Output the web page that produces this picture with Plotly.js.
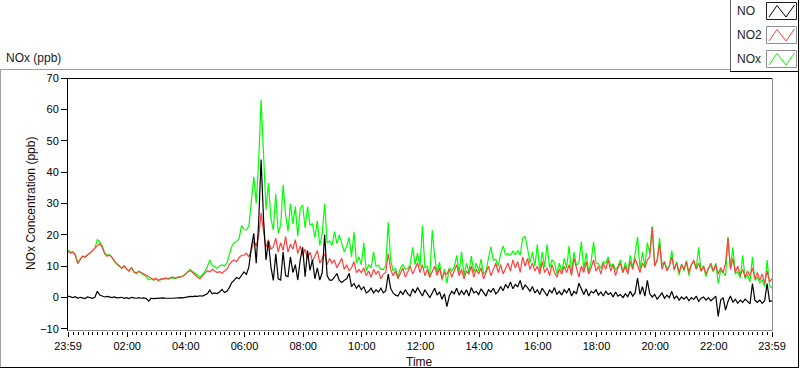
<!DOCTYPE html>
<html>
<head>
<meta charset="utf-8">
<script src="https://cdn.plot.ly/plotly-3.0.1.min.js"></script>
<style>
  html, body { margin: 0; padding: 0; background: #fff; }
  #chart { width: 800px; height: 369px; }
</style>
</head>
<body>
<div id="chart"></div>
<script>
// Sampling clock: first sample at 23:59 of previous day, one sample every 5 minutes
const TIME_START_MIN = -1;
const TIME_STEP_MIN = 5;

// NO (ppb) – one row per hour (12 samples), final sample at 23:59
const NO_ppb = [
  0.5, 0.2, 0.0, 0.3, -0.2, 0.1, 0.0, -0.3, 0.2, 0.0, -0.2, 0.1,
  2.0, 0.8, 0.5, 0.2, 0.4, 0.1, 0.0, 0.2, -0.1, 0.0, 0.1, -0.2,
  0.0, -0.3, 0.1, -0.1, -0.2, 0.0, -0.2, -0.1, -0.3, -1.1, -0.2, -0.3,
  -0.2, -0.3, -0.2, -0.1, -0.2, -0.3, -0.2, -0.2, -0.1, -0.2, 0.0, -0.1,
  0.1, 0.2, 0.4, 0.3, 0.5, 0.4, 0.6, 0.5, 0.8, 1.2, 2.4, 1.2,
  1.5, 1.3, 1.8, 2.6, 1.6, 2.0, 3.2, 4.8, 5.6, 6.4, 6.0, 7.0,
  8.2, 7.4, 9.8, 16.0, 20.5, 11.0, 24.0, 44.0, 25.0, 12.0, 18.0, 9.8,
  5.5, 14.0, 6.0, 5.6, 14.5, 7.0, 6.7, 13.0, 8.0, 10.5, 5.6, 12.0,
  16.0, 6.7, 15.0, 8.7, 12.0, 6.0, 9.5, 5.6, 8.0, 20.0, 7.0, 5.6,
  5.6, 6.5, 7.7, 5.5, 4.8, 5.5, 6.0, 7.7, 3.5, 4.5, 3.0, 4.0,
  2.5, 3.5, 1.5, 2.0, 3.0, 1.5, 2.5, 1.8, 3.0, 1.5, 2.2, 7.5,
  3.0, 1.5, 0.8, 0.5, 2.0, 1.0, 2.5, 1.2, 0.5, 2.8, 1.5, 3.2,
  1.8, 0.5, 2.5, 1.0, 0.0, 1.5, 3.0, 0.8, 1.8, -0.5, 1.2, -2.9,
  0.5, 2.0, 1.2, 3.0, 0.8, 2.2, 1.0, 2.5, 0.5, 3.2, 1.5, 2.0,
  1.0, 2.8, 1.5, 0.5, 2.5, 1.8, 3.0, 1.2, 2.0, 3.5, 2.2, 4.2,
  3.0, 5.0, 2.8, 4.2, 3.5, 5.5, 2.5, 4.0, 3.2, 2.0, 3.5, 1.5,
  2.5, 1.0, 3.0, 1.8, 0.5, 2.5, 1.5, 3.2, 1.0, 2.0, 0.8, 2.5,
  1.5, 3.0, 0.5, 2.0, 1.2, 4.6, 2.5, 1.0, 2.8, 0.5, 2.0, 1.5,
  2.5, 0.8, 1.8, 0.5, 2.0, 1.0, 1.5, 0.2, 1.8, 0.5, 1.0, 0.0,
  1.2, 0.3, 2.0, 0.5, 1.5, 6.2, 1.0, 3.5, 0.5, 5.5, 1.2, 0.2,
  1.0, -0.5, 0.5, 1.5, -0.2, 0.8, 0.0, 2.0, -0.3, 0.5, -0.8, 0.2,
  -0.5, 0.3, -1.0, 0.0, -0.6, 0.5, -1.2, -0.2, 0.2, -0.8, 0.0, -1.0,
  -0.3, 0.5, -6.0, -0.8, 0.0, -4.0, -1.2, 0.5, -1.5, -0.5, -1.8, -0.8,
  -1.5, -0.5, -1.2, -2.0, 4.5, -0.8, -1.5, -0.8, -1.8, -1.0, 4.5, -1.2,
  -1.0
];

// NO2 (ppb)
const NO2_ppb = [
  14.8, 14.2, 14.5, 13.5, 11.0, 12.2, 13.2, 13.0, 13.5, 14.2, 15.0, 15.6,
  16.5, 17.2, 16.0, 14.0, 13.2, 13.6, 12.8, 11.5, 10.8, 10.0, 9.4, 10.2,
  9.0, 8.6, 9.5, 8.2, 7.8, 8.4, 8.0, 7.4, 7.0, 6.8, 6.2, 5.8,
  6.2, 5.5, 6.0, 6.0, 6.3, 6.1, 6.4, 6.5, 6.2, 6.6, 6.5, 6.9,
  7.4, 8.2, 8.6, 8.0, 7.2, 6.5, 6.0, 6.8, 7.5, 8.6, 8.2, 9.0,
  8.5, 8.0, 8.3, 7.8, 8.5, 9.0, 10.5, 11.5, 12.0, 11.5, 12.8, 13.5,
  13.5, 14.2, 13.0, 15.0, 18.0, 16.5, 19.5, 27.0, 21.0, 16.0, 18.5, 15.5,
  16.0, 19.0, 14.5, 17.5, 15.0, 19.5, 14.5, 17.0, 15.5, 18.5, 14.0, 16.5,
  13.5, 15.5, 12.5, 14.5, 11.5, 13.0, 15.0, 11.0, 12.5, 14.0, 10.5, 12.5,
  11.0, 12.0, 9.5, 11.0, 12.5, 9.0, 10.5, 8.5, 9.5, 11.5, 8.0, 9.0,
  8.0, 9.5, 7.0, 8.5, 6.5, 9.0, 7.5, 8.5, 6.0, 7.5, 8.0, 14.0,
  9.0, 7.0, 8.5, 6.0, 7.5, 9.5, 6.5, 8.0, 10.0, 7.5, 9.0, 11.0,
  8.0, 10.5, 7.0, 9.0, 6.5, 8.5, 10.0, 7.0, 9.5, 6.0, 8.0, 7.5,
  9.0, 6.5, 8.5, 10.5, 7.0, 9.0, 6.0, 8.5, 7.5, 10.0, 6.5, 9.0,
  7.5, 9.5, 6.0, 8.0, 10.0, 7.0, 9.0, 11.0, 8.0, 10.5, 7.5, 9.5,
  11.0, 8.5, 12.0, 9.5, 11.5, 8.0, 13.0, 10.0, 12.5, 9.0, 11.0, 8.5,
  10.0, 7.5, 11.5, 8.0, 9.5, 7.0, 10.5, 8.0, 6.5, 9.0, 7.5, 10.0,
  8.0, 10.5, 7.0, 12.5, 9.0, 6.5, 10.0, 8.0, 11.5, 7.5, 9.5, 12.0,
  8.5, 10.0, 7.5, 11.0, 9.0, 12.0, 8.5, 10.5, 7.0, 9.5, 11.0, 8.0,
  10.0, 7.5, 11.5, 9.0, 12.5, 10.0, 8.0, 11.0, 9.5, 12.0, 13.0, 22.5,
  10.0, 12.0, 17.0, 9.0, 11.5, 8.5, 10.0, 13.0, 9.0, 11.0, 8.0, 10.5,
  9.0, 11.5, 8.0, 10.5, 12.0, 9.0, 11.0, 8.5, 10.0, 7.5, 9.5, 11.0,
  8.5, 10.5, 7.5, 9.5, 8.0, 11.0, 19.0, 9.0, 12.5, 8.0, 10.0, 7.0,
  9.0, 6.5, 8.5, 7.0, 9.5, 6.0, 8.0, 5.5, 7.5, 4.5, 8.5, 5.0,
  6.0
];

// NOx (ppb)
const NOx_ppb = [
  15.2, 14.5, 14.6, 13.8, 10.8, 12.3, 13.2, 12.8, 13.7, 14.2, 15.0, 15.8,
  18.5, 17.8, 16.5, 14.2, 13.5, 13.7, 12.8, 11.7, 10.7, 10.0, 9.3, 10.0,
  9.0, 8.3, 9.6, 8.1, 7.6, 8.4, 7.8, 7.3, 6.7, 5.7, 6.0, 5.5,
  6.0, 5.2, 5.8, 5.9, 6.1, 5.8, 6.2, 6.3, 6.1, 6.4, 6.5, 6.8,
  7.5, 8.4, 9.0, 8.3, 7.7, 6.9, 6.6, 7.3, 8.3, 9.8, 12.0, 10.2,
  10.0, 9.3, 10.1, 10.4, 10.1, 11.0, 13.7, 16.3, 17.6, 17.9, 18.8, 23.0,
  21.7, 21.6, 22.8, 31.0, 38.5, 30.0, 43.5, 63.0, 46.0, 28.0, 36.5, 25.3,
  21.5, 33.0, 20.5, 23.1, 36.0, 26.5, 21.2, 30.0, 23.5, 29.0, 19.6, 28.5,
  29.5, 22.2, 29.0, 23.2, 23.5, 19.0, 24.5, 16.6, 20.5, 30.0, 17.5, 18.1,
  16.6, 21.0, 17.2, 20.0, 17.3, 14.5, 16.5, 19.2, 13.0, 21.0, 11.0, 13.0,
  10.5, 17.5, 8.5, 10.5, 9.5, 14.6, 10.0, 10.3, 9.0, 9.0, 10.2, 24.0,
  12.0, 8.5, 9.3, 6.5, 9.5, 10.5, 9.0, 9.2, 10.5, 16.0, 10.5, 14.2,
  9.8, 23.0, 9.5, 10.0, 6.5, 21.5, 13.0, 7.8, 11.3, 5.5, 9.2, 4.6,
  9.5, 8.5, 9.7, 13.5, 7.8, 14.6, 7.0, 11.0, 8.0, 13.2, 8.0, 11.0,
  8.5, 12.3, 7.5, 8.5, 12.5, 16.2, 12.0, 12.2, 10.0, 14.0, 16.5, 13.7,
  14.0, 13.5, 14.8, 13.7, 15.0, 13.5, 19.0, 19.5, 15.7, 11.0, 14.5, 10.0,
  17.0, 8.5, 14.5, 9.8, 17.0, 9.5, 12.0, 11.2, 7.5, 11.0, 8.3, 12.5,
  9.5, 16.5, 7.5, 14.5, 10.2, 11.1, 17.8, 9.0, 14.3, 8.0, 11.5, 17.8,
  11.0, 10.8, 9.3, 11.5, 11.0, 13.0, 10.0, 10.7, 8.8, 10.0, 12.0, 8.0,
  11.2, 7.8, 13.5, 9.5, 14.0, 19.4, 9.0, 14.5, 10.0, 17.5, 14.2, 22.7,
  11.0, 11.5, 19.0, 10.5, 11.3, 9.3, 10.0, 15.0, 8.7, 11.5, 7.2, 10.7,
  8.5, 11.8, 7.0, 10.5, 11.4, 9.5, 16.0, 8.3, 10.2, 6.7, 9.5, 10.0,
  8.2, 11.0, 4.5, 8.7, 8.0, 7.0, 19.4, 9.5, 16.0, 7.5, 8.2, 6.2,
  13.5, 6.0, 7.3, 5.0, 13.0, 5.5, 6.5, 4.7, 5.7, 3.5, 12.0, 3.8,
  3.0
];

const SERIES_NAMES = ['NO', 'NO2', 'NOx'];
const SERIES_COLORS = ['#000000', '#ff4040', '#00ff00'];

const X_TICK_HOURS = [-1/60, 2, 4, 6, 8, 10, 12, 14, 16, 18, 20, 22, 1439/60];
const X_TICK_LABELS = ['23:59', '02:00', '04:00', '06:00', '08:00', '10:00', '12:00',
                       '14:00', '16:00', '18:00', '20:00', '22:00', '23:59'];
const Y_TICKS = [-10, 0, 10, 20, 30, 40, 50, 60, 70];

// time axis in hours
const timeHours = NO_ppb.map((_, i) => (TIME_START_MIN + i * TIME_STEP_MIN) / 60);

// ---- geometry helpers (canvas pixels -> paper fractions) ----
const W = 800, H = 369;
const M = { l: 68, r: 28, t: 78, b: 38 };
const PW = W - M.l - M.r, PH = H - M.t - M.b;
const fx = p => (p - M.l) / PW;
const fy = p => (H - M.b - p) / PH;

const FONT = 'Liberation Sans, Arial, sans-serif';
const LW = 1.2;

const traces = [
  { x: timeHours, y: NOx_ppb, name: SERIES_NAMES[2], type: 'scatter', mode: 'lines',
    line: { color: SERIES_COLORS[2], width: LW }, hoverinfo: 'skip' },
  { x: timeHours, y: NO2_ppb, name: SERIES_NAMES[1], type: 'scatter', mode: 'lines',
    line: { color: SERIES_COLORS[1], width: LW }, hoverinfo: 'skip' },
  { x: timeHours, y: NO_ppb, name: SERIES_NAMES[0], type: 'scatter', mode: 'lines',
    line: { color: SERIES_COLORS[0], width: LW }, hoverinfo: 'skip' }
];

function line(x0, y0, x1, y1, color) {
  return { type: 'line', xref: 'paper', yref: 'paper', layer: 'above',
           x0: fx(x0), y0: fy(y0), x1: fx(x1), y1: fy(y1),
           line: { color: color, width: 1 } };
}

const shapes = [
  // outer panel frame
  line(0, 69.5, 730.5, 69.5, '#a0a0a0'),
  line(0.5, 69.5, 0.5, 368, '#a0a0a0'),
  line(0, 367.5, 799, 367.5, '#000000'),
  line(798.5, 0, 798.5, 368, '#000000'),
  // legend panel
  line(730.5, 0, 730.5, 72, '#606060'),
  line(730.5, 71.5, 799, 71.5, '#000000'),
  // plot area frame
  line(67.5, 78.5, 772.5, 78.5, '#000000'),
  line(67.5, 78, 67.5, 331, '#000000'),
  line(772.5, 78, 772.5, 331, '#909090'),
  line(67.5, 330.5, 772.5, 330.5, '#909090')
];

const TITLE_FONT = { family: FONT, size: 12, color: '#1a0a0a' };
const annotations = [
  { xref: 'paper', yref: 'paper', x: fx(4), y: fy(58), xanchor: 'left', yanchor: 'middle',
    text: 'NOx (ppb)', showarrow: false, font: { family: FONT, size: 12, color: '#1a1a2a' } },
  // axis names
  { xref: 'paper', yref: 'paper', x: fx(31), y: fy(204), xanchor: 'center', yanchor: 'middle',
    textangle: -90, text: 'NOx Concentration (ppb)', showarrow: false, font: TITLE_FONT },
  { xref: 'paper', yref: 'paper', x: fx(419.5), y: fy(361.5), xanchor: 'center', yanchor: 'middle',
    text: 'Time', showarrow: false, font: TITLE_FONT }
];

// legend (label + bordered sample with zigzag)
const LEG_TOP = [2.5, 26.5, 50.5];
const LEG_BORDER = ['#202020', '#909090', '#909090'];
SERIES_NAMES.forEach((name, k) => {
  const yt = LEG_TOP[k], yb = yt + 17, xl = 766.5, xr = 796.5;
  annotations.push({ xref: 'paper', yref: 'paper', x: fx(735), y: fy((yt + yb) / 2),
    xanchor: 'left', yanchor: 'middle', text: name, showarrow: false,
    font: { family: FONT, size: 12, color: '#1a1a2a' } });
  shapes.push({ type: 'rect', xref: 'paper', yref: 'paper', layer: 'above',
    x0: fx(xl), x1: fx(xr), y0: fy(yt), y1: fy(yb),
    line: { color: LEG_BORDER[k], width: 1 }, fillcolor: '#ffffff' });
  const pts = [[xl + 2.5, yb - 2.5], [xl + 10.5, yt + 3], [xl + 19.5, yb - 2.5], [xl + 28, yt + 2.5]];
  const path = pts.map((p, i) => (i ? 'L' : 'M') + fx(p[0]) + ',' + fy(p[1])).join(' ');
  shapes.push({ type: 'path', xref: 'paper', yref: 'paper', layer: 'above', path: path,
    line: { color: SERIES_COLORS[k], width: 1 } });
});

const layout = {
  width: W, height: H,
  margin: M,
  paper_bgcolor: '#ffffff', plot_bgcolor: '#ffffff',
  showlegend: false,
  font: { family: FONT, size: 11, color: '#000000' },
  xaxis: {
    range: [-1/60, 1439/60],
    tickmode: 'array', tickvals: X_TICK_HOURS, ticktext: X_TICK_LABELS,
    ticks: 'outside', ticklen: 5, tickcolor: '#000000', tickwidth: 1,
    minor: { tickmode: 'linear', tick0: 0, dtick: 1/6, ticks: 'outside', ticklen: 3,
             tickcolor: '#000000', tickwidth: 1, showgrid: false },
    showgrid: false, zeroline: false, showline: false,
    tickfont: { family: FONT, size: 11, color: '#000000' },
    automargin: false
  },
  yaxis: {
    range: [-10.64, 70],
    tickmode: 'array', tickvals: Y_TICKS,
    ticks: 'outside', ticklen: 6, tickcolor: '#000000', tickwidth: 1,
    showgrid: false, zeroline: false, showline: false,
    tickfont: { family: FONT, size: 11, color: '#000000' },
    automargin: false
  },
  shapes: shapes,
  annotations: annotations
};

Plotly.newPlot('chart', traces, layout, { staticPlot: true, displayModeBar: false });
</script>
</body>
</html>
